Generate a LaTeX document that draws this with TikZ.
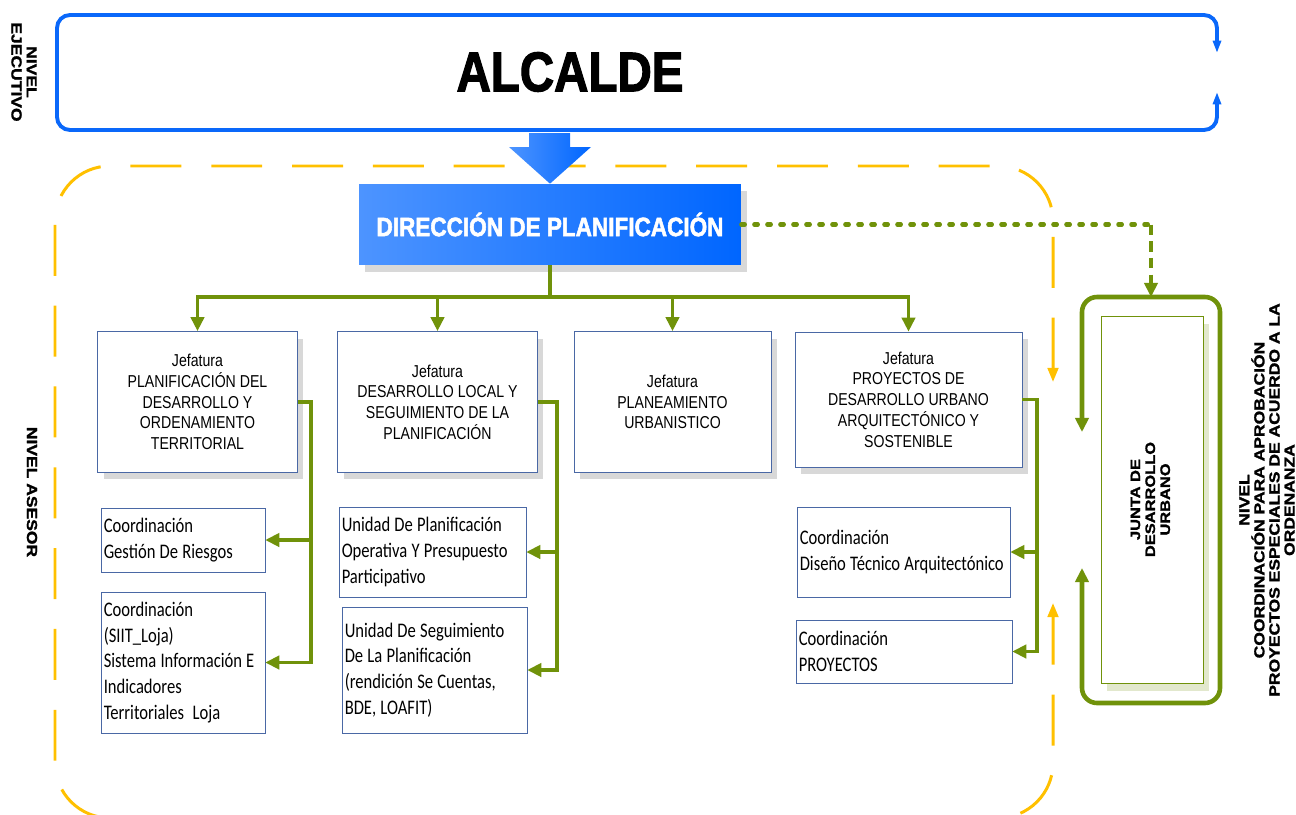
\documentclass[tikz,border=0pt]{standalone}
\usepackage{fontspec}
\setmainfont{Liberation Sans}
\newfontfamily\heavyfont{Liberation Sans Bold}[FakeStretch=0.85,FakeBold=2]
\newfontfamily\rotfont{Liberation Sans Bold}[FakeStretch=1.2,FakeBold=1.5]
\newfontfamily\jeffont{Liberation Sans}[FakeStretch=0.82]
\newfontfamily\coordfont{Carlito}[FakeStretch=0.8]
\DeclareRobustCommand\coordtext{\coordfont\fontsize{11.8}{14.6}\selectfont\spaceskip=2.4pt\relax\hyphenpenalty=10000\relax}
\usetikzlibrary{arrows.meta,shadows}

\definecolor{dirblue}{RGB}{0,102,255}
\definecolor{dirlight}{RGB}{77,148,255}
\definecolor{frameblue}{RGB}{10,104,250}
\definecolor{jgreen}{RGB}{112,146,10}
\definecolor{ygold}{RGB}{255,192,0}
\definecolor{boxline}{RGB}{74,104,165}
\definecolor{shadowgrey}{RGB}{216,216,216}
\definecolor{jshadow}{RGB}{226,232,205}

\begin{document}
\begin{tikzpicture}
[x=0.02cm, y=-0.02cm,
jefe/.style ={rectangle, draw=boxline, fill=white, inner sep=0pt, align=center, minimum height=2.82cm, font=\jeffont\fontsize{9.8}{11.8}\selectfont, general shadow={fill=shadowgrey, shadow xshift=0.12cm, shadow yshift=-0.14cm}},
coord/.style ={rectangle, draw=boxline, fill=white, inner xsep=1.5pt, inner ysep=0pt, align=flush left, font=\coordtext},
dirbox/.style ={rectangle, left color=dirlight, right color=dirblue, minimum width=7.64cm, minimum height=1.62cm, text=white, font=\heavyfont\fontsize{15.1}{18}\selectfont, general shadow={fill=shadowgrey, shadow xshift=0.12cm, shadow yshift=-0.14cm}},
junta/.style ={rectangle, draw=jgreen, fill=white, minimum width=2.04cm, minimum height=7.34cm, font=\rotfont\fontsize{7.8}{8.5}\selectfont, general shadow={fill=jshadow, shadow xshift=0.12cm, shadow yshift=-0.16cm}},
level/.style ={font=\rotfont\fontsize{8.3}{8.6}\selectfont, align=center},
link/.style ={draw=jgreen, line width=2.2pt},
arrowlink/.style ={link, -{Triangle[width=7.5pt,length=8pt]}},
dotlink/.style ={draw=jgreen, line width=2.4pt, line cap=round, dash pattern=on 2pt off 5.4pt},
dashlink/.style ={draw=jgreen, line width=2.2pt, dash pattern=on 6pt off 3.5pt, -{Triangle[width=7.5pt,length=8pt]}},
alcframe/.style ={draw=frameblue, line width=2.2pt, rounded corners=0.26cm, {Triangle[width=4.5pt,length=7pt]}-{Triangle[width=4.5pt,length=7pt]}},
jframe/.style ={draw=jgreen, line width=2.6pt, rounded corners=0.3cm, {Triangle[width=7.5pt,length=8pt]}-{Triangle[width=7.5pt,length=8pt]}},
yframe/.style ={draw=ygold, line width=1.7pt, rounded corners=1.1cm, dash pattern=on 29pt off 17pt, {Triangle[width=6pt,length=8pt]}-{Triangle[width=6pt,length=8pt]}}]
\useasboundingbox (0, 0) rectangle (1296, 815);
% frames
\draw[yframe] (1053, 382) -- (1053, 166) -- (55, 166) -- (55, 818) -- (1053, 818) -- (1053, 603);
\draw[alcframe] (1217, 53) -- (1217, 15) -- (57, 15) -- (57, 130) -- (1217, 130) -- (1217, 92);
\draw[jframe] (1082, 432) -- (1082, 297) -- (1220, 297) -- (1220, 703) -- (1082, 703) -- (1082, 568);
% levels
\draw (24, 72) node[level, rotate=-90] (ejec) {NIVEL\\EJECUTIVO};
\draw (32, 492) node[level, rotate=-90] (asesor) {NIVEL ASESOR};
\draw (1267, 500) node[level, rotate=90] (coordlvl) {NIVEL\\COORDINACIÓN PARA APROBACIÓN\\PROYECTOS ESPECIALES DE ACUERDO A LA\\ORDENANZA};
% top
\draw (570, 72) node[font=\heavyfont\fontsize{31.8}{36}\selectfont] (alcalde) {ALCALDE};
\draw (550, 224.5) node[dirbox] (dir) {DIRECCIÓN DE PLANIFICACIÓN};
\shade[left color=dirlight, right color=dirblue] (529, 133) -- (570, 133) -- (570, 147) -- (591, 147) -- (dir.north) -- (509, 147) -- (529, 147) -- cycle;
% jefaturas
\draw (197.5, 402) node[jefe, minimum width=4cm] (jplan) {Jefatura\\PLANIFICACIÓN DEL\\DESARROLLO Y\\ORDENAMIENTO\\TERRITORIAL};
\draw (437.5, 402) node[jefe, minimum width=4cm] (jdes) {Jefatura\\DESARROLLO LOCAL Y\\SEGUIMIENTO DE LA\\PLANIFICACIÓN};
\draw (672.5, 402) node[jefe, minimum width=3.94cm] (jurb) {Jefatura\\PLANEAMIENTO\\URBANISTICO};
\draw (908.5, 399.5) node[jefe, minimum width=4.54cm, minimum height=2.7cm] (jproy) {Jefatura\\PROYECTOS DE\\DESARROLLO URBANO\\ARQUITECTÓNICO Y\\SOSTENIBLE};
% coordinaciones y unidades
\draw (183, 540) node[coord, text width=3.17cm, minimum height=1.28cm] (cgest) {Coordinación\\Gestión De Riesgos};
\draw (183, 662.5) node[coord, text width=3.17cm, minimum height=2.82cm] (csiit) {Coordinación\\(SIIT\_Loja)\\Sistema Información E\\Indicadores\\Territoriales~~Loja};
\draw (432.5, 552) node[coord, text width=3.63cm, minimum height=1.8cm] (uplan) {Unidad De Planificación\\Operativa Y Presupuesto\\Participativo};
\draw (434.5, 670) node[coord, text width=3.59cm, minimum height=2.52cm] (useg) {Unidad De Seguimiento\\De La Planificación\\(rendición Se Cuentas,\\BDE, LOAFIT)};
\draw (903.5, 552) node[coord, text width=4.15cm, minimum height=1.8cm] (cdis) {Coordinación\\Diseño Técnico Arquitectónico};
\draw (904, 651.5) node[coord, text width=4.21cm, minimum height=1.26cm] (cproy) {Coordinación\\PROYECTOS};
% junta
\draw (1152, 499.5) node[junta] (junta) {\rotatebox{90}{\begin{tabular}{@{}c@{}}JUNTA DE\\DESARROLLO\\URBANO\end{tabular}}};
% links
\coordinate (bus) at (550, 297);
\coordinate (jturn) at (1151, 224.5);
\coordinate (jtop) at (1151, 297);
\draw[link] (dir) -- (bus);
\draw[arrowlink] (bus) -| (jplan);
\draw[arrowlink] (bus) -| (jdes);
\draw[arrowlink] (bus) -| (jurb);
\draw[arrowlink] (bus) -| (jproy);
\draw[arrowlink] (jplan.east) -- ++(13, 0) |- (cgest);
\draw[arrowlink] (jplan.east) -- ++(13, 0) |- (csiit);
\draw[arrowlink] (jdes.east) -- ++(19, 0) |- (uplan);
\draw[arrowlink] (jdes.east) -- ++(19, 0) |- (useg);
\draw[arrowlink] (jproy.east) -- ++(15, 0) |- (cdis);
\draw[arrowlink] (jproy.east) -- ++(15, 0) |- (cproy);
\draw[dotlink] (dir) -- (jturn);
\draw[dashlink] (jturn) -- (jtop);
\end{tikzpicture}
\end{document}
